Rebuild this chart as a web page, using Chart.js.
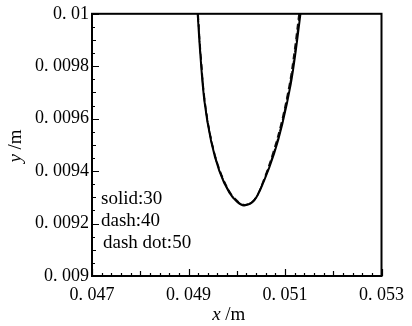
<!DOCTYPE html>
<html>
<head>
<meta charset="utf-8">
<script src="https://cdn.jsdelivr.net/npm/chart.js@4/dist/chart.umd.min.js"></script>
<style>
  html, body { margin: 0; padding: 0; background: #fff; }
</style>
</head>
<body>
<canvas id="myChart" width="412" height="326"></canvas>
<script>
// tick labels
const xTicks = [0.047, 0.049, 0.051, 0.053];
const yTicks = [0.009, 0.0092, 0.0094, 0.0096, 0.0098, 0.01];

// solid: 30
const solidX = [0.04919, 0.049241, 0.04933, 0.049468, 0.049639, 0.049845, 0.050017, 0.050155,
                0.050361, 0.050567, 0.050773, 0.050944, 0.051118, 0.051221, 0.05132];
const solidY = [0.01, 0.009856, 0.009667, 0.009515, 0.009401, 0.009318, 0.009281, 0.009269,
                0.009288, 0.009364, 0.009466, 0.00958, 0.009731, 0.009856, 0.01];

// dash: 40
const dashX = [0.0492, 0.04925, 0.04934, 0.049478, 0.049652, 0.04986, 0.050035, 0.050175,
               0.05037, 0.050565, 0.050755, 0.050925, 0.051095, 0.051195, 0.05129];
const dashY = [0.01, 0.009856, 0.009667, 0.009515, 0.009402, 0.00932, 0.009283, 0.009272,
               0.009292, 0.00937, 0.009472, 0.009585, 0.009734, 0.009858, 0.01];

// dash dot: 50
const dotX = [0.049195, 0.049245, 0.049335, 0.049473, 0.049645, 0.049852, 0.050026, 0.050165,
              0.050366, 0.050566, 0.050765, 0.050935, 0.051105, 0.051208, 0.051305];
const dotY = [0.01, 0.009856, 0.009667, 0.009515, 0.009401, 0.009319, 0.009282, 0.009271,
              0.00929, 0.009367, 0.009469, 0.009583, 0.009733, 0.009857, 0.01];

const legendLines = ['solid:30', 'dash:40', 'dash dot:50'];

const serif = '"Liberation Serif", "DejaVu Serif", serif';

function pts(xs, ys) {
  return xs.map((x, i) => ({ x: x, y: ys[i] }));
}

function fmt(v) {
  return String(+Number(v).toPrecision(6)).replace('0.', '0. ');
}

// frame, inward ticks, legend text and axis titles
const decor = {
  id: 'decor',
  afterDraw(chart) {
    const ctx = chart.ctx;
    const a = chart.chartArea;
    const xs = chart.scales.x;
    const ys = chart.scales.y;
    ctx.save();
    ctx.strokeStyle = '#000';
    ctx.lineWidth = 2;
    ctx.strokeRect(a.left, a.top, a.right - a.left, a.bottom - a.top);

    ctx.lineWidth = 1.2;
    ctx.beginPath();
    // x ticks every 0.0002
    for (let i = 0; i <= 30; i++) {
      const v = 0.047 + i * 0.0002;
      const p = Math.round(xs.getPixelForValue(v)) + 0.5;
      const len = i % 10 === 0 ? 7 : (i % 5 === 0 ? 5 : 3);
      ctx.moveTo(p, a.bottom);
      ctx.lineTo(p, a.bottom - len);
    }
    // y ticks every 0.00005
    for (let i = 0; i <= 20; i++) {
      const v = 0.009 + i * 0.00005;
      const p = Math.round(ys.getPixelForValue(v)) + 0.5;
      const len = i % 4 === 0 ? 7 : (i % 2 === 0 ? 4 : 3);
      ctx.moveTo(a.left, p);
      ctx.lineTo(a.left + len, p);
    }
    ctx.stroke();

    ctx.fillStyle = '#000';
    ctx.font = '19px ' + serif;
    ctx.textAlign = 'left';
    ctx.textBaseline = 'middle';
    legendLines.forEach((t, i) => {
      ctx.fillText(t, a.left + 9 + (i === 2 ? 2 : 0), 199 + i * 22);
    });

    // x title
    const cx = (a.left + a.right) / 2 - 8;
    ctx.font = 'italic 19px ' + serif;
    const w1 = ctx.measureText('x').width;
    ctx.font = '19px ' + serif;
    const w2 = ctx.measureText(' /m').width;
    let sx = cx - (w1 + w2) / 2;
    ctx.font = 'italic 19px ' + serif;
    ctx.fillText('x', sx, 315);
    ctx.font = '19px ' + serif;
    ctx.fillText(' /m', sx + w1, 315);

    // y title
    ctx.translate(16, 146);
    ctx.rotate(-Math.PI / 2);
    ctx.font = 'italic 19px ' + serif;
    const h1 = ctx.measureText('y').width;
    sx = -(h1 + w2) / 2;
    ctx.fillText('y', sx, 0);
    ctx.font = '19px ' + serif;
    ctx.fillText(' /m', sx + h1, 0);
    ctx.restore();
  }
};

const config = {
  type: 'scatter',
  data: {
    datasets: [
      { label: 'solid:30', data: pts(solidX, solidY), showLine: true, borderColor: '#000',
        borderWidth: 2, tension: 0.35, pointRadius: 0 },
      { label: 'dash:40', data: pts(dashX, dashY), showLine: true, borderColor: '#111',
        borderWidth: 1.6, borderDash: [6, 4], tension: 0.35, pointRadius: 0 },
      { label: 'dash dot:50', data: pts(dotX, dotY), showLine: true, borderColor: '#111',
        borderWidth: 1.6, borderDash: [8, 3, 2, 3], tension: 0.35, pointRadius: 0 }
    ]
  },
  options: {
    responsive: false,
    animation: false,
    devicePixelRatio: 1,
    layout: {
      padding: { top: 12, right: 29, left: 0, bottom: 0 }
    },
    plugins: {
      legend: { display: false },
      tooltip: { enabled: false }
    },
    scales: {
      x: {
        type: 'linear',
        min: 0.047,
        max: 0.053,
        afterBuildTicks: s => { s.ticks = xTicks.map(v => ({ value: v })); },
        afterFit: s => { s.height = 50; },
        grid: { display: false, drawTicks: false },
        border: { display: false },
        ticks: {
          autoSkip: false, maxRotation: 0, padding: 8, color: '#000',
          font: { family: serif, size: 18 },
          callback: v => fmt(v)
        }
      },
      y: {
        type: 'linear',
        min: 0.009,
        max: 0.01,
        afterBuildTicks: s => { s.ticks = yTicks.map(v => ({ value: v })); },
        afterFit: s => { s.width = 92; },
        grid: { display: false, drawTicks: false },
        border: { display: false },
        ticks: {
          autoSkip: false, padding: 3, color: '#000',
          font: { family: serif, size: 18 },
          callback: v => fmt(v)
        }
      }
    }
  },
  plugins: [decor]
};

const myChart = new Chart(document.getElementById('myChart'), config);
</script>
</body>
</html>
